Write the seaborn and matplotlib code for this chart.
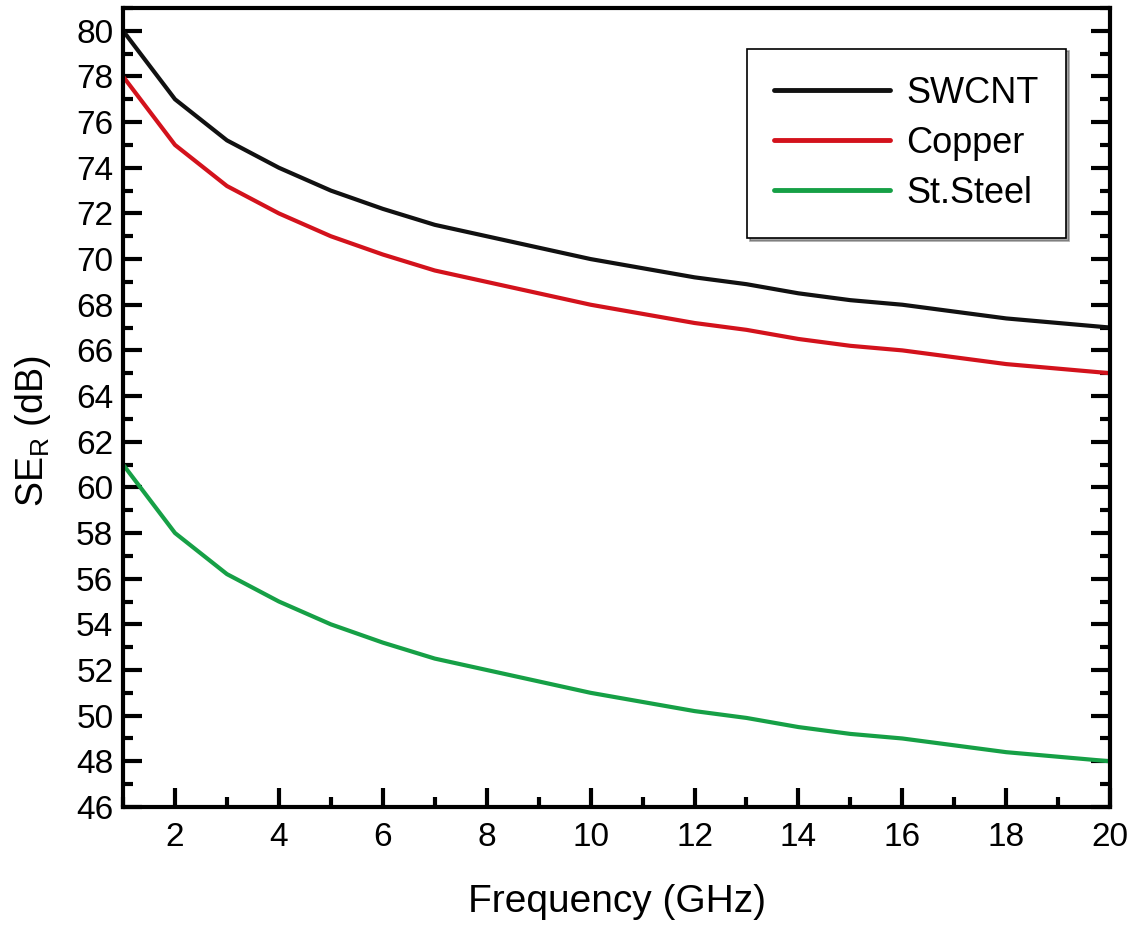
import numpy as np
import pandas as pd
import matplotlib
matplotlib.use("Agg")
import matplotlib.pyplot as plt
import seaborn as sns
from matplotlib.ticker import MultipleLocator

freq = list(range(1, 21))
swcnt = [80, 77, 75.2, 74, 73, 72.2, 71.5, 71, 70.5, 70, 69.6, 69.2, 68.9, 68.5, 68.2, 68, 67.7, 67.4, 67.2, 67]
copper = [78, 75, 73.2, 72, 71, 70.2, 69.5, 69, 68.5, 68, 67.6, 67.2, 66.9, 66.5, 66.2, 66, 65.7, 65.4, 65.2, 65]
steel = [61, 58, 56.2, 55, 54, 53.2, 52.5, 52, 51.5, 51, 50.6, 50.2, 49.9, 49.5, 49.2, 49, 48.7, 48.4, 48.2, 48]
series_names = ["SWCNT", "Copper", "St.Steel"]
colors = ["#111111", "#d3121c", "#16a046"]

df = pd.DataFrame({
    "Frequency": freq * 3,
    "SE": swcnt + copper + steel,
    "Material": [series_names[0]] * 20 + [series_names[1]] * 20 + [series_names[2]] * 20,
})

sns.set_theme(style="white")
plt.rcParams['font.family'] = ['Liberation Sans', 'DejaVu Sans']
plt.rcParams['mathtext.fontset'] = 'custom'
plt.rcParams['mathtext.rm'] = 'Liberation Sans'
plt.rcParams['text.color'] = 'black'
plt.rcParams['axes.labelcolor'] = 'black'
plt.rcParams['xtick.color'] = 'black'
plt.rcParams['ytick.color'] = 'black'

fig = plt.figure(figsize=(11.32, 9.25), dpi=100)
ax = fig.add_axes([0.1087, 0.1276, 0.872, 0.8638])

sns.lineplot(data=df, x="Frequency", y="SE", hue="Material", palette=colors,
             hue_order=series_names, linewidth=3, ax=ax, legend=True)

ax.set_xlim(1, 20)
ax.set_ylim(46, 81)
ax.xaxis.set_major_locator(MultipleLocator(2))
ax.xaxis.set_minor_locator(MultipleLocator(1))
ax.yaxis.set_major_locator(MultipleLocator(2))
ax.yaxis.set_minor_locator(MultipleLocator(1))

for s in ax.spines.values():
    s.set_linewidth(3)
    s.set_color("black")

ax.tick_params(axis='both', which='major', direction='in', length=14, width=3,
               labelsize=24, color='black', labelcolor='black')
ax.tick_params(axis='both', which='minor', direction='in', length=7, width=3, color='black')
ax.tick_params(axis='y', which='both', left=True, right=True)
ax.tick_params(axis='x', which='both', bottom=True, top=False)
ax.tick_params(axis='x', which='major', pad=11)
ax.tick_params(axis='y', which='major', pad=7)

ax.set_xlabel("Frequency (GHz)", fontsize=28, labelpad=22)
ax.set_ylabel(r"SE$_\mathregular{R}$ (dB)", fontsize=27)
ax.yaxis.set_label_coords(-0.071, 0.47)

leg = ax.legend(loc="upper right", bbox_to_anchor=(0.955, 0.949), fontsize=26,
                frameon=True, fancybox=False, shadow=True, edgecolor="black",
                handlelength=3.2, labelspacing=0.42, borderpad=0.75, handletextpad=0.45,
                borderaxespad=0, title=None)
leg.get_frame().set_linewidth(1.2)
for line in leg.get_lines():
    line.set_linewidth(3.5)

fig.savefig("out.png", dpi=100)
